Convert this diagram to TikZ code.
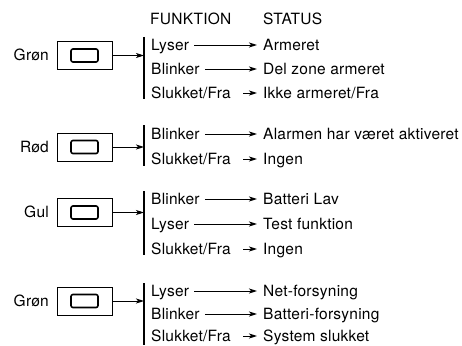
\documentclass[tikz,border=0pt]{standalone}
\usepackage{fontspec}
\setmainfont{TeX Gyre Heros}[LetterSpace=1.5]
\usetikzlibrary{arrows.meta}
\begin{document}
\begin{tikzpicture}[x=1pt,y=-1pt,
  txt/.style={anchor=west,inner sep=0pt,text height=10pt,text depth=0pt,font=\fontsize{15.5pt}{18pt}\selectfont},
  lbl/.style={anchor=east,inner sep=0pt,text height=10pt,text depth=0pt,font=\fontsize{15.5pt}{18pt}\selectfont},
  outerbox/.style={draw,line width=1pt,minimum width=55pt,minimum height=28pt,inner sep=0pt},
  lamp/.style={draw,line width=1.6pt,rounded corners=2pt,minimum width=27pt,minimum height=13pt,inner sep=0pt},
  bar/.style={line width=1.4pt},
  arr/.style={line width=0.9pt,-{Stealth[length=8pt,width=5pt,inset=2pt]}},
  sarr/.style={arr,shorten <=5pt,shorten >=6pt},
  offarr/.style={arr,shorten <=12pt,shorten >=6pt}
]
\useasboundingbox (0,0) rectangle (462,345);
% headers
\node[txt] (hf) at (150,20) {FUNKTION};
\node[txt] (hs) at (263,20) {STATUS};

% ---- group 1
\node[lbl] (g1) at (49,55.5) {Grøn};
\node[outerbox] (b1) at (84.5,55.5) {};
\node[lamp] (l1) at (b1) {};
\coordinate (t1) at (144,37);
\coordinate (u1) at (144,99);
\draw[bar] (t1) -- (u1);
\draw[arr] (b1.east) -- (b1.east -| t1);
\node[txt] (f11) at (151,45) {Lyser};
\node[txt] (s11) at (263,45) {Armeret};
\node[txt] (f12) at (151,69) {Blinker};
\node[txt] (s12) at (263,69) {Del zone armeret};
\node[txt] (f13) at (151,93) {Slukket/Fra};
\node[txt] (s13) at (263,93) {Ikke armeret/Fra};
\draw[sarr] (f11) -- (s11);
\draw[sarr] (f12) -- (s12);
\draw[offarr] (f13) -- (s13);

% ---- group 2
\node[lbl] (g2) at (49,147) {Rød};
\node[outerbox] (b2) at (84.5,147) {};
\node[lamp] (l2) at (b2) {};
\coordinate (t2) at (144,125);
\coordinate (u2) at (144,166);
\draw[bar] (t2) -- (u2);
\draw[arr] (b2.east) -- (b2.east -| t2);
\node[txt] (f21) at (151,134) {Blinker};
\node[txt] (s21) at (263,134) {Alarmen har været aktiveret};
\node[txt] (f22) at (151,159) {Slukket/Fra};
\node[txt] (s22) at (263,159) {Ingen};
\draw[sarr] (f21) -- (s21);
\draw[offarr] (f22) -- (s22);

% ---- group 3
\node[lbl] (g3) at (49,212.5) {Gul};
\node[outerbox] (b3) at (84.5,212.5) {};
\node[lamp] (l3) at (b3) {};
\coordinate (t3) at (144,191);
\coordinate (u3) at (144,255);
\draw[bar] (t3) -- (u3);
\draw[arr] (b3.east) -- (b3.east -| t3);
\node[txt] (f31) at (151,199) {Blinker};
\node[txt] (s31) at (263,199) {Batteri Lav};
\node[txt] (f32) at (151,224) {Lyser};
\node[txt] (s32) at (263,224) {Test funktion};
\node[txt] (f33) at (151,249) {Slukket/Fra};
\node[txt] (s33) at (263,249) {Ingen};
\draw[sarr] (f31) -- (s31);
\draw[sarr] (f32) -- (s32);
\draw[offarr] (f33) -- (s33);

% ---- group 4
\node[lbl] (g4) at (49,301) {Grøn};
\node[outerbox] (b4) at (84.5,301) {};
\node[lamp] (l4) at (b4) {};
\coordinate (t4) at (144,283);
\coordinate (u4) at (144,345);
\draw[bar] (t4) -- (u4);
\draw[arr] (b4.east) -- (b4.east -| t4);
\node[txt] (f41) at (151,291) {Lyser};
\node[txt] (s41) at (263,291) {Net-forsyning};
\node[txt] (f42) at (151,314) {Blinker};
\node[txt] (s42) at (263,314) {Batteri-forsyning};
\node[txt] (f43) at (151,336) {Slukket/Fra};
\node[txt] (s43) at (263,336) {System slukket};
\draw[sarr] (f41) -- (s41);
\draw[sarr] (f42) -- (s42);
\draw[offarr] (f43) -- (s43);
\end{tikzpicture}
\end{document}
